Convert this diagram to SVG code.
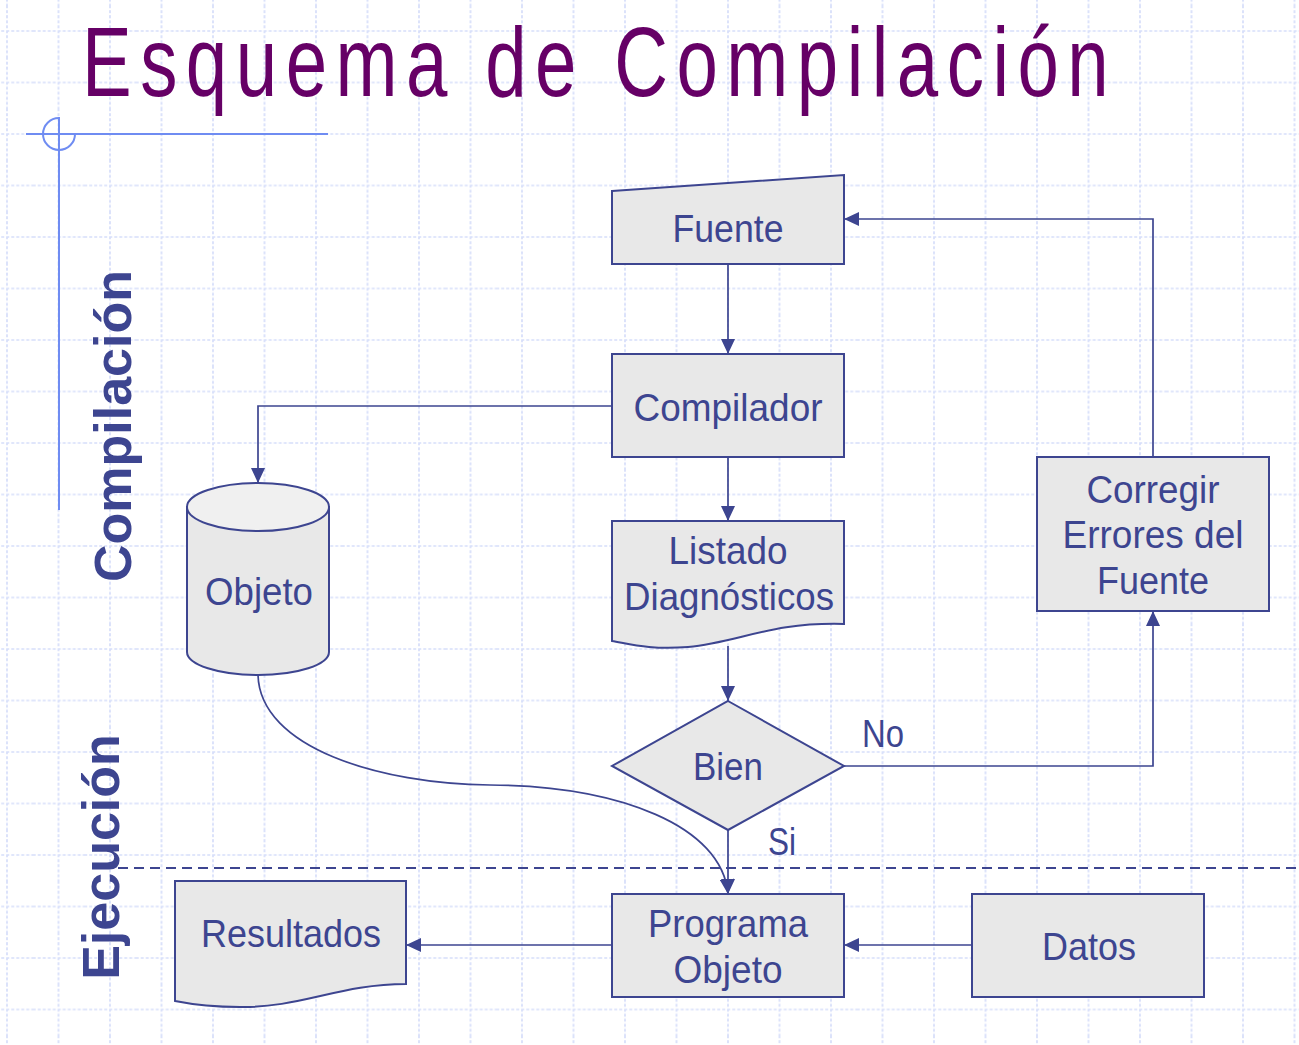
<svg xmlns="http://www.w3.org/2000/svg" width="1299" height="1045" viewBox="0 0 1299 1045">
<defs>
<pattern id="grid" patternUnits="userSpaceOnUse" x="-18.75" y="5.25" width="51.5" height="51.5">
<path d="M25.75,0 V51.5 M0,25.75 H51.5" stroke="#d6defa" stroke-width="1.7" stroke-dasharray="3 2" fill="none"/>
</pattern>
<marker id="arr" markerUnits="userSpaceOnUse" markerWidth="16" markerHeight="14" refX="15" refY="7" orient="auto">
<path d="M0,0 L15,7 L0,14 Z" fill="#3d4590"/>
</marker>
<style>
.node{fill:#e8e8e8;stroke:#3d4590;stroke-width:2}
.top{fill:#f0f0f0;stroke:#3d4590;stroke-width:2}
.t{font-family:"Liberation Sans",Arial,sans-serif;font-size:39px;fill:#3d4590;text-anchor:middle}
.side{font-family:"Liberation Sans",Arial,sans-serif;font-size:52px;font-weight:bold;fill:#3d4590;text-anchor:middle}
.c{fill:none;stroke:#3d4590;stroke-width:1.7}
</style>
</defs>
<rect width="1299" height="1045" fill="#ffffff"/>
<rect width="1299" height="1045" fill="url(#grid)"/>

<g id="decoration">
<path d="M26,134 H328 M59,117 V510" stroke="#6f8cf2" stroke-width="2" fill="none"/>
<path d="M59,118 A16,16 0 1,0 75,134" stroke="#6f8cf2" stroke-width="2" fill="none"/>
<path d="M118,868 H1299" stroke="#3d4590" stroke-width="2" stroke-dasharray="10 6" fill="none"/>
</g>

<text id="title" transform="translate(82,96) scale(0.76,1)" font-family="'Liberation Sans',Arial,sans-serif" font-size="98" fill="#660066" textLength="1351" lengthAdjust="spacing">Esquema de Compilación</text>

<text class="side" transform="translate(131,426) rotate(-90)">Compilación</text>
<text class="side" transform="translate(119,857) rotate(-90)">Ejecución</text>

<g id="connectors">
<path class="c" d="M728,264 V354" marker-end="url(#arr)"/>
<path class="c" d="M612,406 H258 V483" marker-end="url(#arr)"/>
<path class="c" d="M728,457 V521" marker-end="url(#arr)"/>
<path class="c" d="M728,646 V701" marker-end="url(#arr)"/>
<path class="c" d="M844,766 H1153 V611" marker-end="url(#arr)"/>
<path class="c" d="M1153,457 V219 H844" marker-end="url(#arr)"/>
<path class="c" d="M728,830 V894" marker-end="url(#arr)"/>
<path class="c" d="M258,675 C260,748 380,784 490,785 C620,786 722,826 728,894" marker-end="url(#arr)"/>
<path class="c" d="M612,945 H406" marker-end="url(#arr)"/>
<path class="c" d="M972,945 H844" marker-end="url(#arr)"/>
<text class="t" x="883" y="747" textLength="42" lengthAdjust="spacingAndGlyphs">No</text>
<text class="t" x="782" y="855" textLength="28" lengthAdjust="spacingAndGlyphs">Si</text>
</g>

<g id="fuente">
<path class="node" d="M612,191 L844,175 L844,264 L612,264 Z"/>
<text class="t" x="728" y="242" textLength="111" lengthAdjust="spacingAndGlyphs">Fuente</text>
</g>

<g id="compilador">
<rect class="node" x="612" y="354" width="232" height="103"/>
<text class="t" x="728" y="421" textLength="189" lengthAdjust="spacingAndGlyphs">Compilador</text>
</g>

<g id="listado">
<path class="node" d="M612,521 H844 V624 C770,622 740,642 688,647 C650,650 630,644 612,641 Z"/>
<text class="t" x="728" y="564" textLength="119" lengthAdjust="spacingAndGlyphs">Listado</text>
<text class="t" x="729" y="610" textLength="210" lengthAdjust="spacingAndGlyphs">Diagnósticos</text>
</g>

<g id="bien">
<path class="node" d="M728,701 L844,766 L728,830 L612,766 Z"/>
<text class="t" x="728" y="780" textLength="70" lengthAdjust="spacingAndGlyphs">Bien</text>
</g>

<g id="objeto">
<path class="node" d="M187,507 V652 A71,23 0 0,0 329,652 V507 Z"/>
<ellipse class="top" cx="258" cy="507" rx="71" ry="24"/>
<text class="t" x="259" y="605" textLength="108" lengthAdjust="spacingAndGlyphs">Objeto</text>
</g>

<g id="corregir">
<rect class="node" x="1037" y="457" width="232" height="154"/>
<text class="t" x="1153" y="503" textLength="133" lengthAdjust="spacingAndGlyphs">Corregir</text>
<text class="t" x="1153" y="548" textLength="181" lengthAdjust="spacingAndGlyphs">Errores del</text>
<text class="t" x="1153" y="594" textLength="112" lengthAdjust="spacingAndGlyphs">Fuente</text>
</g>

<g id="resultados">
<path class="node" d="M175,881 H406 V984 C340,984 300,1008 240,1007 C210,1007 190,1004 175,1001 Z"/>
<text class="t" x="291" y="947" textLength="180" lengthAdjust="spacingAndGlyphs">Resultados</text>
</g>

<g id="programa">
<rect class="node" x="612" y="894" width="232" height="103"/>
<text class="t" x="728" y="937" textLength="160" lengthAdjust="spacingAndGlyphs">Programa</text>
<text class="t" x="728" y="983" textLength="109" lengthAdjust="spacingAndGlyphs">Objeto</text>
</g>

<g id="datos">
<rect class="node" x="972" y="894" width="232" height="103"/>
<text class="t" x="1089" y="960" textLength="94" lengthAdjust="spacingAndGlyphs">Datos</text>
</g>
</svg>
